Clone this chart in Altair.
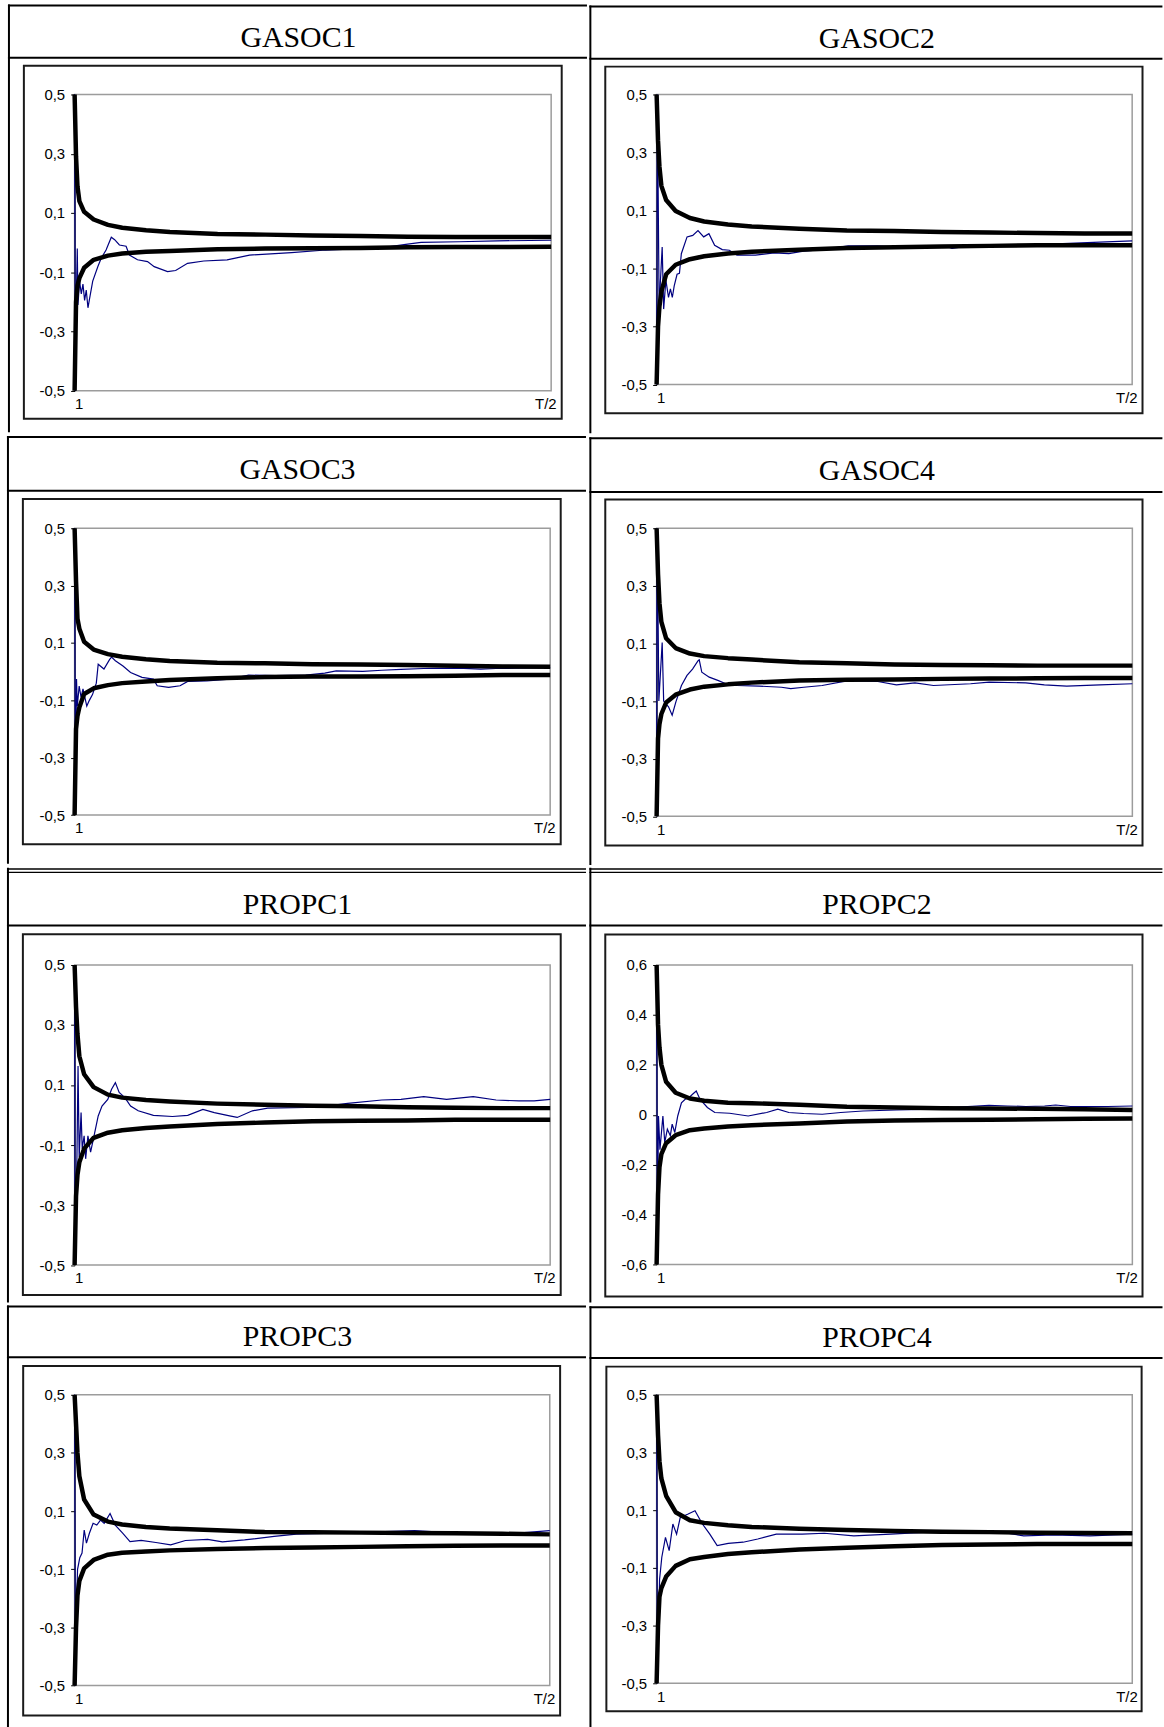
import altair as alt
import pandas as pd

# ------------------------------------------------------------------ data
PANELS = ["GASOC1", "GASOC2", "GASOC3", "GASOC4", "PROPC1", "PROPC2", "PROPC3", "PROPC4"]
X_TICK_VALUES = [0, 1]
X_TICK_LABELS = ["1", "T/2"]
Y_TICKS_05 = [-0.5, -0.3, -0.1, 0.1, 0.3, 0.5]
Y_TICKS_06 = [-0.6, -0.4, -0.2, 0.0, 0.2, 0.4, 0.6]

BX = [0, 0.003, 0.006, 0.01, 0.02, 0.04, 0.07, 0.1, 0.15, 0.2, 0.3, 0.4, 0.5, 0.6, 0.7, 0.8, 0.9, 1.0]

GASOC1_UP = [0.5, 0.29, 0.19, 0.14, 0.104, 0.078, 0.06, 0.05, 0.042, 0.036, 0.029, 0.027, 0.024, 0.022, 0.02, 0.019, 0.019, 0.019]
GASOC1_LO = [-0.5, -0.2, -0.145, -0.12, -0.085, -0.058, -0.044, -0.037, -0.031, -0.028, -0.022, -0.02, -0.019, -0.018, -0.016, -0.015, -0.015, -0.014]
GASOC2_UP = [0.5, 0.34, 0.25, 0.185, 0.136, 0.098, 0.074, 0.062, 0.052, 0.045, 0.037, 0.031, 0.029, 0.026, 0.024, 0.022, 0.021, 0.021]
GASOC2_LO = [-0.5, -0.3, -0.23, -0.18, -0.12, -0.087, -0.068, -0.058, -0.048, -0.042, -0.035, -0.029, -0.027, -0.024, -0.022, -0.02, -0.02, -0.02]
GASOC3_UP = [0.5, 0.315, 0.185, 0.15, 0.104, 0.077, 0.061, 0.052, 0.043, 0.037, 0.031, 0.029, 0.026, 0.025, 0.023, 0.021, 0.018, 0.017]
GASOC3_LO = [-0.5, -0.2, -0.155, -0.124, -0.078, -0.058, -0.047, -0.04, -0.034, -0.029, -0.023, -0.019, -0.017, -0.017, -0.016, -0.014, -0.012, -0.012]
GASOC4_UP = [0.5, 0.34, 0.24, 0.175, 0.118, 0.084, 0.065, 0.056, 0.049, 0.044, 0.035, 0.031, 0.027, 0.025, 0.024, 0.023, 0.023, 0.023]
GASOC4_LO = [-0.5, -0.23, -0.18, -0.145, -0.105, -0.078, -0.06, -0.05, -0.042, -0.036, -0.029, -0.026, -0.025, -0.023, -0.022, -0.021, -0.02, -0.02]
PROPC1_UP = [0.5, 0.36, 0.27, 0.196, 0.136, 0.093, 0.068, 0.058, 0.05, 0.045, 0.038, 0.034, 0.031, 0.029, 0.026, 0.024, 0.023, 0.023]
PROPC1_LO = [-0.5, -0.27, -0.2, -0.157, -0.112, -0.076, -0.059, -0.051, -0.043, -0.038, -0.03, -0.025, -0.021, -0.019, -0.018, -0.016, -0.016, -0.016]
PROPC2_UP = [0.6, 0.36, 0.27, 0.2, 0.132, 0.088, 0.065, 0.056, 0.048, 0.046, 0.04, 0.032, 0.029, 0.026, 0.025, 0.024, 0.022, 0.019]
PROPC2_LO = [-0.6, -0.32, -0.21, -0.158, -0.114, -0.082, -0.062, -0.055, -0.047, -0.042, -0.035, -0.027, -0.023, -0.021, -0.02, -0.018, -0.016, -0.015]
PROPC3_UP = [0.5, 0.4, 0.3, 0.22, 0.14, 0.088, 0.064, 0.054, 0.045, 0.04, 0.034, 0.028, 0.027, 0.026, 0.025, 0.024, 0.022, 0.02]
PROPC3_LO = [-0.5, -0.3, -0.19, -0.14, -0.097, -0.068, -0.05, -0.043, -0.039, -0.035, -0.03, -0.027, -0.025, -0.023, -0.021, -0.019, -0.018, -0.018]
PROPC4_UP = [0.5, 0.36, 0.27, 0.21, 0.15, 0.093, 0.065, 0.056, 0.048, 0.042, 0.036, 0.031, 0.028, 0.025, 0.024, 0.022, 0.021, 0.02]
PROPC4_LO = [-0.5, -0.3, -0.2, -0.17, -0.13, -0.093, -0.07, -0.062, -0.052, -0.046, -0.036, -0.03, -0.025, -0.021, -0.019, -0.017, -0.017, -0.017]

GASOC1_EST = [(0, 0.5), (0.0015, -0.5), (0.003, -0.24), (0.0056, -0.02), (0.007, -0.21), (0.0104, -0.13),
              (0.014, -0.173), (0.0175, -0.14), (0.021, -0.195), (0.0244, -0.16), (0.028, -0.22), (0.0313, -0.19),
              (0.038, -0.13), (0.049, -0.08), (0.056, -0.052), (0.066, -0.025), (0.077, 0.018), (0.084, 0.01),
              (0.094, -0.008), (0.108, -0.012), (0.115, -0.042), (0.132, -0.058), (0.153, -0.064), (0.167, -0.081),
              (0.195, -0.098), (0.212, -0.094), (0.237, -0.07), (0.271, -0.062), (0.32, -0.058), (0.367, -0.042),
              (0.455, -0.034), (0.527, -0.025), (0.647, -0.017), (0.695, -0.006), (0.727, 0.001), (0.807, 0.003),
              (0.887, 0.006), (1.0, 0.008)]
GASOC2_EST = [(0, -0.5), (0.0016, 0.5), (0.0055, -0.28), (0.0078, -0.15), (0.0117, -0.026), (0.0148, -0.24),
              (0.0195, -0.14), (0.025, -0.2), (0.029, -0.17), (0.033, -0.2), (0.037, -0.16), (0.043, -0.12),
              (0.048, -0.117), (0.052, -0.049), (0.064, 0.009), (0.076, 0.014), (0.087, 0.031), (0.099, 0.009),
              (0.11, 0.02), (0.122, -0.02), (0.138, -0.035), (0.153, -0.037), (0.169, -0.054), (0.208, -0.054),
              (0.247, -0.046), (0.278, -0.049), (0.309, -0.04), (0.348, -0.035), (0.403, -0.022), (0.465, -0.022),
              (0.527, -0.028), (0.613, -0.026), (0.621, -0.031), (0.675, -0.018), (0.776, -0.018), (0.854, -0.014),
              (0.932, -0.009), (1.0, -0.005)]
GASOC3_EST = [(0, 0.5), (0.0016, -0.5), (0.004, -0.026), (0.0056, -0.12), (0.0096, -0.05), (0.0136, -0.09),
              (0.0176, -0.06), (0.0256, -0.12), (0.031, -0.1), (0.0376, -0.08), (0.0456, -0.04), (0.0496, 0.026),
              (0.0617, 0.009), (0.0737, 0.043), (0.0777, 0.051), (0.0857, 0.038), (0.1017, 0.02), (0.1177, -0.003),
              (0.1417, -0.02), (0.1657, -0.026), (0.1737, -0.049), (0.1977, -0.055), (0.2217, -0.049), (0.2377, -0.034),
              (0.2778, -0.032), (0.3259, -0.026), (0.3659, -0.012), (0.422, -0.014), (0.486, -0.012), (0.526, -0.005),
              (0.55, 0.003), (0.606, 0.001), (0.646, 0.005), (0.686, 0.008), (0.734, 0.011), (0.806, 0.012),
              (0.854, 0.009), (0.886, 0.011), (0.926, 0.012), (1.0, 0.014)]
GASOC4_EST = [(0, -0.5), (0.0008, 0.5), (0.0031, 0.19), (0.0047, -0.1), (0.0117, 0.103), (0.0148, -0.1),
              (0.025, -0.12), (0.0327, -0.149), (0.0405, -0.103), (0.0522, -0.046), (0.0639, -0.011), (0.0755, 0.011),
              (0.0872, 0.04), (0.0896, 0.043), (0.095, 0.0), (0.1106, -0.017), (0.13, -0.029), (0.1456, -0.04),
              (0.169, -0.046), (0.2157, -0.048), (0.2625, -0.052), (0.282, -0.057), (0.3092, -0.052), (0.348, -0.046),
              (0.4026, -0.029), (0.465, -0.032), (0.504, -0.044), (0.543, -0.037), (0.582, -0.046), (0.66, -0.04),
              (0.699, -0.034), (0.776, -0.037), (0.815, -0.044), (0.862, -0.048), (0.932, -0.044), (1.0, -0.04)]
PROPC1_EST = [(0, 0.5), (0.0008, -0.5), (0.004, -0.257), (0.0072, 0.163), (0.0096, -0.141), (0.0136, 0.008),
              (0.016, -0.113), (0.02, -0.069), (0.0232, -0.146), (0.028, -0.069), (0.0336, -0.124), (0.0416, -0.064),
              (0.0496, -0.003), (0.0576, 0.03), (0.0697, 0.052), (0.0777, 0.086), (0.0857, 0.108), (0.0937, 0.075),
              (0.1057, 0.058), (0.1177, 0.03), (0.1337, 0.014), (0.1657, -0.001), (0.2057, -0.005), (0.2378, -0.001),
              (0.2698, 0.019), (0.2938, 0.008), (0.3259, -0.003), (0.3419, -0.008), (0.3739, 0.014), (0.4059, 0.023),
              (0.486, 0.025), (0.55, 0.034), (0.5741, 0.039), (0.6461, 0.05), (0.6862, 0.052), (0.7342, 0.061),
              (0.7822, 0.052), (0.8383, 0.061), (0.8863, 0.05), (0.9343, 0.047), (0.9664, 0.047), (1.0, 0.052)]
PROPC2_EST = [(0, 0.5), (0.0016, -0.5), (0.0039, -0.005), (0.007, -0.14), (0.0132, -0.005), (0.0171, -0.111),
              (0.0226, -0.058), (0.0288, -0.084), (0.0327, -0.038), (0.0382, -0.071), (0.0444, -0.005), (0.0522, 0.048),
              (0.06, 0.062), (0.0678, 0.068), (0.0755, 0.082), (0.0833, 0.095), (0.0911, 0.062), (0.1067, 0.029),
              (0.1223, 0.009), (0.1534, 0.006), (0.1924, -0.005), (0.2313, 0.009), (0.2547, 0.022), (0.278, 0.009),
              (0.3092, 0.005), (0.3481, 0.002), (0.3871, 0.009), (0.4338, 0.015), (0.5039, 0.019), (0.5818, 0.022),
              (0.6363, 0.031), (0.6986, 0.038), (0.7375, 0.035), (0.7765, 0.033), (0.8154, 0.035), (0.8388, 0.039),
              (0.8699, 0.033), (0.9478, 0.033), (1.0, 0.035)]
PROPC3_EST = [(0, 0.5), (0.0016, -0.5), (0.0047, -0.18), (0.0062, -0.1), (0.0109, -0.06), (0.0156, -0.044),
              (0.0202, 0.035), (0.0249, -0.01), (0.0311, 0.024), (0.0389, 0.058), (0.0467, 0.052), (0.0544, 0.069),
              (0.0622, 0.058), (0.0746, 0.092), (0.0855, 0.052), (0.1011, 0.024), (0.1166, -0.005), (0.14, -0.001),
              (0.1711, -0.008), (0.2022, -0.016), (0.2333, -0.001), (0.2799, 0.003), (0.311, -0.006), (0.3577, 0.001),
              (0.4199, 0.013), (0.4666, 0.021), (0.5443, 0.024), (0.6221, 0.028), (0.7154, 0.033), (0.7776, 0.027),
              (0.8398, 0.026), (0.9331, 0.024), (1.0, 0.033)]
PROPC4_EST = [(0, 0.5), (0.0016, -0.5), (0.0062, -0.14), (0.0109, -0.063), (0.0186, 0.006), (0.0264, -0.04),
              (0.0342, 0.052), (0.042, 0.017), (0.0497, 0.075), (0.0652, 0.086), (0.0807, 0.098), (0.0963, 0.052),
              (0.1118, 0.017), (0.1273, -0.023), (0.1506, -0.015), (0.1817, -0.011), (0.2127, 0.0), (0.2516, 0.017),
              (0.3059, 0.017), (0.3525, 0.02), (0.4146, 0.011), (0.4922, 0.017), (0.5699, 0.024), (0.6475, 0.023),
              (0.7252, 0.024), (0.7717, 0.011), (0.8339, 0.014), (0.9115, 0.011), (1.0, 0.017)]

EST = [GASOC1_EST, GASOC2_EST, GASOC3_EST, GASOC4_EST, PROPC1_EST, PROPC2_EST, PROPC3_EST, PROPC4_EST]
UPS = [GASOC1_UP, GASOC2_UP, GASOC3_UP, GASOC4_UP, PROPC1_UP, PROPC2_UP, PROPC3_UP, PROPC4_UP]
LOS = [GASOC1_LO, GASOC2_LO, GASOC3_LO, GASOC4_LO, PROPC1_LO, PROPC2_LO, PROPC3_LO, PROPC4_LO]
TICKS = [Y_TICKS_05, Y_TICKS_05, Y_TICKS_05, Y_TICKS_05, Y_TICKS_05, Y_TICKS_06, Y_TICKS_05, Y_TICKS_05]

# ------------------------------------------------------------------ layout (page pixels)
PLOT = [(73, 552, 94.5, 392.3), (655.6, 1133.6, 93.5, 385.0),
        (74, 552, 526.7, 815.0), (655.6, 1133.8, 525.5, 815.0),
        (74, 552, 961.7, 1263.3), (655.6, 1133.8, 961.7, 1262.7),
        (74, 551.6, 1390.7, 1683.0), (655.5, 1133.6, 1390.0, 1680.0)]
BOX = [(22, 562.6, 65.5, 420.5), (604, 1144, 65.5, 414.0),
       (22, 562.6, 497.3, 844.3), (604, 1144, 496.7, 844.3),
       (22, 562.6, 930.7, 1293.5), (604, 1144, 931.0, 1295.0),
       (22.3, 562, 1361.7, 1713.0), (605, 1143, 1361.7, 1708.0)]
COL_EDGE = [(0, 588), (588, 1164)]
COL_VLINE = [(6, 8), (588, 590)]
COL_HLINE = [(6, 588), (588, 1164)]
COL_CENTER = [298, 877]
ROW_EDGE = [(0, 434), (434, 864), (864, 1301), (1301, 1727)]
ROW_TOPLINES = [[(4, 6)], [(434, 436)], [(864.5, 865.9), (867.9, 869.3)], [(1301, 1303)]]
ROW_TITLE_DIV = [(56.5, 58.5), (488, 490), (921, 923), (1352, 1354)]
ROW_TITLE_BASE = [46.3, 476.7, 910.3, 1341.5]
TOP_CORRECTION = -5.5   # measured constant downward offset of the rendered page

LABEL_FONT = "Liberation Sans"
LABEL_SIZE = 15
X_LABEL_EXPR = "datum.value == 0 ? '%s' : '%s'" % (X_TICK_LABELS[0], X_TICK_LABELS[1])
Y_LABEL_EXPR = ("datum.value == 0 ? '0' : (datum.value < 0 ? '-' : '') + "
                "replace(format(abs(datum.value), '.1f'), '.', ',')")


def make_cell(k):
    col, row = k % 2, k // 2
    L, R, T, B = PLOT[k]

    def fx(v):
        return v - L

    def fy(v):
        return v - T

    one = alt.Chart(pd.DataFrame({"name": [PANELS[k]]}))

    def block(x1, x2, y1, y2, **kw):
        return one.mark_rect(**kw).encode(
            x=alt.value(fx(x1)), x2=alt.value(fx(x2)), y=alt.value(fy(y1)), y2=alt.value(fy(y2)))

    cl, cr = COL_EDGE[col]
    rt, rb = ROW_EDGE[row]
    layers = [block(cl, cr, rt, rb, opacity=0)]
    vx1, vx2 = COL_VLINE[col]
    vtop = ROW_TOPLINES[row][0][0] if row == 0 else rt
    layers.append(block(vx1, vx2, vtop, rb, color="black"))
    hl, hr = COL_HLINE[col]
    for (y1, y2) in ROW_TOPLINES[row]:
        layers.append(block(hl, hr, y1, y2, color="black"))
    d1, d2 = ROW_TITLE_DIV[row]
    layers.append(block(hl, hr, d1, d2, color="black"))
    bl, br, bt, bb = BOX[k]
    layers.append(block(bl, br, bt, bb, fill="white", fillOpacity=0, stroke="#1a1a1a", strokeWidth=2))
    layers.append(one.mark_text(font="Liberation Serif", fontSize=30, align="center",
                                baseline="alphabetic", color="black").encode(
        x=alt.value(fx(COL_CENTER[col])), y=alt.value(fy(ROW_TITLE_BASE[row])), text="name:N"))

    ticks = TICKS[k]
    lim = max(abs(v) for v in ticks)
    xaxis = alt.Axis(values=X_TICK_VALUES, labelExpr=X_LABEL_EXPR, title=None, domain=False,
                     ticks=False, tickSize=0, grid=False, labelFlush=True, labelPadding=6,
                     labelFont=LABEL_FONT, labelFontSize=LABEL_SIZE, labelColor="black",
                     labelOffset={"condition": {"test": "datum.value == 1", "value": 5}, "value": 0})
    yaxis = alt.Axis(values=ticks, labelExpr=Y_LABEL_EXPR, title=None, grid=False,
                     domainColor="black", domainWidth=1, tickColor="black", tickSize=4, tickWidth=1,
                     labelPadding=6, labelFont=LABEL_FONT, labelFontSize=LABEL_SIZE, labelColor="black")
    xenc = alt.X("t:Q", scale=alt.Scale(domain=[0, 1], nice=False, zero=False), axis=xaxis)
    yenc = alt.Y("v:Q", scale=alt.Scale(domain=[-lim, lim], nice=False, zero=False), axis=yaxis)

    est = pd.DataFrame(EST[k], columns=["t", "v"])
    up = [(x, v, "up") for x, v in zip(BX, UPS[k])]
    lo = [(x, v, "lo") for x, v in zip(BX, LOS[k])]
    bands = pd.DataFrame(up + lo, columns=["t", "v", "b"])

    layers.append(alt.Chart(est).mark_line(color="#000080", strokeWidth=1.2).encode(x=xenc, y=yenc))
    layers.append(alt.Chart(bands).mark_line(color="black", strokeWidth=4.5, strokeJoin="round").encode(
        x=xenc, y=yenc, detail="b:N"))

    return alt.layer(*layers).properties(width=R - L, height=B - T)


cells = [make_cell(k) for k in range(len(PANELS))]
chart = alt.concat(*cells, columns=2, spacing=0, bounds="full", align="each",
                   padding={"top": TOP_CORRECTION, "left": 0, "right": 0, "bottom": 0}).configure(
    background="white").configure_view(stroke="#9c9c9c", strokeWidth=1.5)

chart.save("out.html", embed_options={"renderer": "svg", "actions": False})
